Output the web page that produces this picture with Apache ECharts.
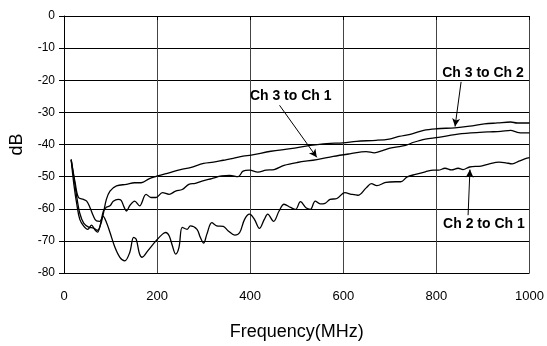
<!DOCTYPE html>
<html>
<head>
<meta charset="utf-8">
<script src="https://cdn.jsdelivr.net/npm/echarts@6/dist/echarts.min.js"></script>
<style>
html,body{margin:0;padding:0;background:#fff;}
#c{width:547px;height:346px;}
</style>
</head>
<body>
<div id="c"></div>
<script>
// Ch 3 to Ch 2 (top curve)
const ch32Freq = [15.4,21.2,27.5,33.9,42.3,52.9,63.5,72.0,78.3,84.7,91.0,98.8,112.8,134.0,151.7,165.7,183.5,201.1,225.8,250.4,271.5,299.9,321.1,342.2,363.4,384.6,402.1,444.4,486.8,529.1,564.5,599.6,627.9,670.3,698.4,719.6,747.7,772.5,800.6,839.6,871.3,903.1,931.2,959.4,973.5,1000];
const ch32dB   = [-44.7,-50.2,-56.4,-61.4,-64.5,-65.7,-66.0,-66.7,-65.1,-61.4,-57.1,-54.5,-52.9,-52.4,-51.9,-51.9,-50.6,-49.8,-48.8,-47.8,-47.2,-45.9,-45.5,-44.9,-44.3,-43.6,-43.3,-42.1,-41.3,-40.3,-39.7,-39.5,-39.0,-38.7,-38.3,-37.5,-36.7,-35.6,-35.1,-34.8,-34.3,-33.6,-33.3,-33.0,-33.3,-33.3];

// Ch 3 to Ch 1 (middle curve)
const ch31Freq = [15.4,21.2,27.5,33.9,42.3,50.8,59.3,65.6,72.0,78.3,84.7,91.0,98.8,105.8,116.4,122.8,129.1,134.0,141.8,151.7,162.3,176.3,186.9,197.5,211.6,225.8,239.8,254.0,268.1,282.1,296.3,317.5,338.6,356.2,374.0,384.6,398.5,416.3,433.9,451.4,472.6,501.0,543.3,578.4,613.8,649.1,666.7,684.2,698.4,712.6,733.8,751.3,776.1,804.2,839.6,874.7,910.1,938.2,959.4,973.5,987.7,1000];
const ch31dB   = [-44.7,-52.4,-58.6,-63.3,-65.4,-66.4,-65.1,-66.4,-67.3,-64.8,-60.7,-59.5,-59.1,-57.7,-57.1,-57.4,-59.5,-60.7,-58.9,-57.6,-59.1,-55.5,-56.5,-56.5,-55.0,-55.5,-54.5,-54.0,-52.4,-52.1,-51.4,-50.6,-49.8,-49.6,-50.0,-48.3,-48.0,-48.6,-48.0,-47.8,-46.5,-45.6,-44.7,-43.7,-42.9,-42.2,-42.6,-41.9,-41.2,-40.8,-40.3,-39.3,-38.3,-37.8,-36.9,-36.4,-36.1,-35.9,-35.6,-36.2,-36.4,-36.4];

// Ch 2 to Ch 1 (bottom curve)
const ch21Freq = [15.4,23.9,31.1,41.7,48.7,55.7,62.9,69.8,77.2,83.6,91.0,98.8,109.4,120.0,130.6,141.2,149.6,155.1,162.3,167.8,179.9,197.5,211.6,218.6,225.8,232.8,239.8,247.0,254.0,264.6,271.5,285.7,292.7,299.9,306.9,317.5,328.0,342.2,352.8,366.8,377.4,387.9,398.5,409.1,419.7,430.3,437.5,450.2,462.0,472.6,486.8,497.4,507.9,520.6,529.1,539.7,550.3,560.8,571.4,586.2,603.2,617.4,631.3,649.1,660.3,672.0,691.4,712.6,723.2,737.2,754.9,776.1,793.7,804.2,818.4,832.4,846.6,857.1,871.3,895.9,913.7,934.8,948.8,963.0,977.1,991.1,1000];
const ch21dB   = [-44.7,-51.9,-56.5,-57.1,-57.6,-59.6,-62.2,-63.8,-63.9,-62.3,-64.2,-67.4,-72.0,-75.1,-76.2,-73.6,-68.9,-69.5,-74.1,-75.1,-73.1,-70.0,-67.9,-67.4,-68.4,-71.5,-74.1,-72.0,-65.8,-66.4,-65.3,-66.4,-68.9,-70.7,-67.9,-64.3,-65.3,-65.5,-66.9,-68.2,-67.4,-63.3,-61.7,-63.3,-66.1,-63.3,-61.7,-63.9,-60.7,-58.6,-59.6,-60.2,-57.8,-59.8,-60.2,-57.6,-58.5,-58.3,-57.1,-56.8,-55.0,-55.5,-55.8,-53.5,-52.2,-52.8,-51.8,-51.6,-51.6,-50.1,-49.3,-48.5,-48.0,-48.0,-47.4,-47.9,-47.4,-47.8,-47.0,-46.7,-46.0,-45.5,-45.7,-46.0,-45.2,-44.4,-44.1];

// Annotation labels (text, text anchor [MHz,dB], arrow from, arrow to)
const annText = ['Ch 3 to Ch 2','Ch 3 to Ch 1','Ch 2 to Ch 1'];
const annTextAt = [[900,-17.7],[487,-25.1],[902,-64.8]];
const annFrom = [[853,-20.5],[463,-27.8],[868,-62.0]];
const annTo   = [[840,-34.4],[543,-44.0],[872,-47.8]];

const zip = (a,b) => a.map((v,i)=>[v,b[i]]);
const FONT = '"Liberation Sans", Arial, sans-serif';

const chart = echarts.init(document.getElementById('c'), null, {renderer:'canvas'});

function lineSeries(name, data){
  return {
    name, type:'line', data, smooth:0.35, symbol:'none',
    lineStyle:{color:'#000', width:1.3}, z:3, silent:true
  };
}

const series = [
  lineSeries('Ch 3 to Ch 2', zip(ch32Freq, ch32dB)),
  lineSeries('Ch 3 to Ch 1', zip(ch31Freq, ch31dB)),
  lineSeries('Ch 2 to Ch 1', zip(ch21Freq, ch21dB))
];
series[0].markLine = {
  silent:true, symbol:['none','arrow'], symbolSize:[6,8],
  lineStyle:{color:'#000', width:1, type:'solid'},
  label:{show:false},
  data: annFrom.map((f,i)=>[{coord:f},{coord:annTo[i]}])
};

chart.setOption({
  animation:false,
  backgroundColor:'#fff',
  grid:{left:60, right:14.5, top:16, bottom:72, containLabel:false},
  xAxis:{
    type:'value', min:0, max:1000, interval:200,
    name:'Frequency(MHz)', nameLocation:'middle', nameGap:50,
    nameTextStyle:{fontFamily:FONT, fontSize:18, color:'#000'},
    axisLine:{show:true, lineStyle:{color:'#000', width:1}},
    axisTick:{show:true, length:4, lineStyle:{color:'#000'}},
    axisLabel:{fontFamily:FONT, fontSize:13, color:'#000', margin:17, formatter:v=>String(v)},
    splitLine:{show:true, lineStyle:{color:'#444', width:1}}
  },
  yAxis:{
    type:'value', min:-80, max:0, interval:10,
    name:'dB', nameLocation:'middle', nameGap:38, nameRotate:90,
    nameTextStyle:{fontFamily:FONT, fontSize:18, color:'#000'},
    axisLine:{show:true, lineStyle:{color:'#000', width:1}},
    axisTick:{show:true, length:5, lineStyle:{color:'#000'}},
    axisLabel:{fontFamily:FONT, fontSize:12, color:'#000', margin:9},
    splitLine:{show:true, lineStyle:{color:'#000', width:1}}
  },
  series
});

const texts = annText.map((t,i)=>{
  const p = chart.convertToPixel({gridIndex:0}, annTextAt[i]);
  return {
    type:'text', x:p[0], y:p[1], z:10,
    style:{text:t, fill:'#000', font:'bold 14px '+FONT, align:'center', verticalAlign:'middle'}
  };
});
chart.setOption({graphic:texts});
</script>
</body>
</html>
